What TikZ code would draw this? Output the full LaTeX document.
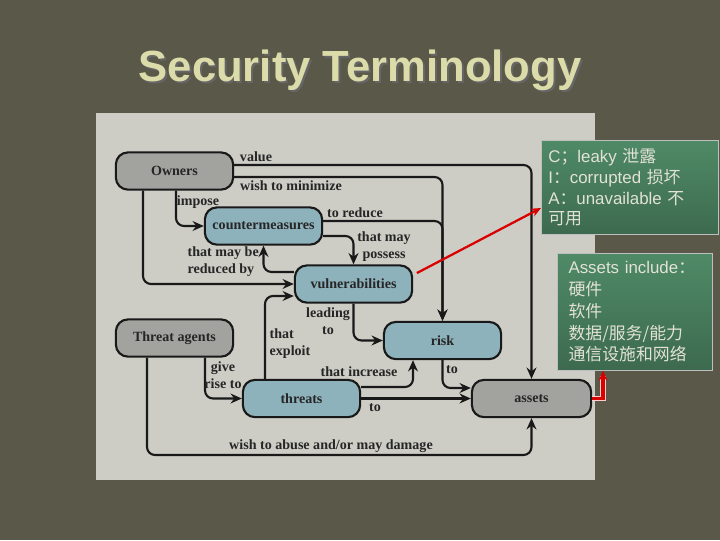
\documentclass[tikz,border=0pt]{standalone}
\usepackage{fontspec}
\setmainfont{Liberation Serif}
\setsansfont{Liberation Sans}
\newfontfamily\cjk{Noto Sans CJK SC}
\usetikzlibrary{arrows.meta}
\definecolor{slidebg}{HTML}{5A5849}
\definecolor{panelgray}{HTML}{CDCDC6}
\definecolor{titleyellow}{HTML}{DCDCAA}
\definecolor{ownergray}{HTML}{A2A29E}
\definecolor{termblue}{HTML}{8DB2BC}
\definecolor{notegreentop}{HTML}{4F8A66}
\definecolor{notegreenbot}{HTML}{3D6A4F}
\definecolor{notetext}{HTML}{E2E2D6}
\begin{document}
\begin{tikzpicture}[x=0.025cm,y=-0.025cm,every node/.style={font=\bfseries\fontsize{10}{12}\selectfont,text=black!85},
term/.style={draw=black!90,line width=1.5pt,rounded corners=0.3cm,minimum width=2.93cm,minimum height=0.93cm,inner sep=1pt},
party/.style={term,fill=ownergray},thing/.style={term,fill=termblue},
lbl/.style={align=center,inner sep=1pt},
arr/.style={draw=black!90,line width=1.5pt,rounded corners=0.2cm,-{Stealth[length=8pt,width=7pt]}},
note/.style={draw=black!25,anchor=north west,top color=notegreentop,bottom color=notegreenbot,align=left,text=notetext,font=\sffamily\fontsize{12}{14.8}\selectfont,inner xsep=5pt,inner ysep=3pt},
redarr/.style={draw=red!85!black,line width=1.6pt,-{Stealth[length=7pt,width=6pt]}}]
\useasboundingbox (0,0) rectangle (720,540);
\fill[slidebg] (0,0) rectangle (720,540);
\node[font=\sffamily\bfseries\fontsize{31}{36}\selectfont,text=black!60] (titleshadow) at (362,72) {Security Terminology};
\node[font=\sffamily\bfseries\fontsize{31}{36}\selectfont,text=titleyellow] (title) at (360,70) {Security Terminology};
\fill[panelgray] (96,113) rectangle (595,480);
% terms
\node[party] (owners) at (174.5,171) {Owners};
\node[thing] (counter) at (263.5,226) {countermeasures};
\node[thing] (vuln) at (353.5,284) {vulnerabilities};
\node[party] (agents) at (174.5,338) {Threat agents};
\node[thing] (risk) at (442.5,340.5) {risk};
\node[thing] (threats) at (301.5,398.5) {threats};
\node[party,minimum width=2.98cm] (assets) at (531.5,398.5) {assets};
% relations
\draw[arr] (owners.east |- 0,165) -| (assets.north);\draw[arr] (owners.east |- 0,177) -| (risk.north);
\draw[arr] (counter.east |- 0,221) -| (risk.north);
\draw[arr] (owners.south -| 176,0) |- (counter.west);\draw[arr] (owners.south -| 143,0) |- (vuln.west);
\draw[arr] (counter.east |- 0,236) -| (vuln.north);\draw[arr] (vuln.west |- 0,272) -| (counter.south);
\draw[arr] (vuln.south) |- (risk.west);\draw[arr] (threats.north -| 265,0) |- (vuln.west |- 0,296);
\draw[arr] (agents.south -| 205,0) |- (threats.west);\draw[arr] (threats.east |- 0,387) -| (risk.south -| 413,0);
\draw[arr] (threats.east) -- (assets.west);\draw[arr] (risk.south) |- (assets.west |- 0,388);
\draw[arr] (agents.south -| 147,0) |- (assets.south |- 0,455) -- (assets.south);
\node[lbl] (lvalue) at (256,157) {value};\node[lbl] (lminimize) at (291,186) {wish to minimize};
\node[lbl] (limpose) at (198,202) {impose};\node[lbl] (lreduce) at (355,213) {to reduce};
\node[lbl] (lpossess) at (384,247) {that may\\possess};\node[lbl,align=left,anchor=west] (lreduced) at (186,262) {that may be\\reduced by};
\node[lbl] (lleading) at (328,321) {leading\\to};\node[lbl,align=left,anchor=west] (lexploit) at (268,344) {that\\exploit};
\node[lbl] (lgive) at (223,375) {give\\rise to};\node[lbl] (lincrease) at (359,372) {that increase};
\node[lbl] (lriskto) at (452,370) {to};\node[lbl] (lthreatsto) at (375,408) {to};
\node[lbl] (labuse) at (331,446) {wish to abuse and/or may damage};
% notes
\node[note,text width=4.07cm,minimum height=2.35cm] (cia) at (541,140) {C{\cjk ；}leaky {\cjk 泄露}\\I{\cjk ：}corrupted {\cjk 损坏}\\A{\cjk ：}unavailable {\cjk 不}\\{\cjk 可用}};
\node[note,text width=3.3cm,inner xsep=8pt,minimum height=2.925cm,font=\sffamily\fontsize{12}{15.5}\selectfont] (include) at (557,253) {Assets include{\cjk ：}\\{\cjk 硬件}\\{\cjk 软件}\\{\cjk 数据/服务/能力}\\{\cjk 通信设施和网络}};
\draw[redarr,shorten <=3pt] (vuln.east |- 0,275) -- (cia.west |- 0,208);
\draw[draw=white!80!red,line width=3.6pt] (assets.east) -| ([yshift=-4pt]include.south -| 603,0);
\draw[redarr,line width=2.2pt] (assets.east) -| (include.south -| 603,0);
\end{tikzpicture}
\end{document}
